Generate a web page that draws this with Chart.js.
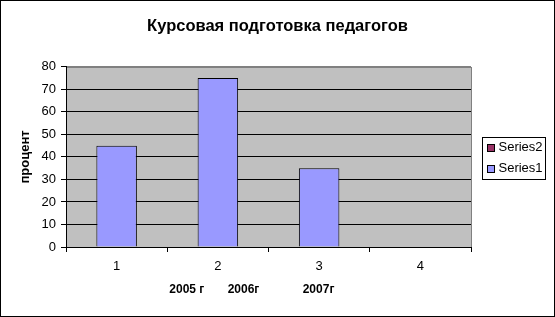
<!DOCTYPE html>
<html>
<head>
<meta charset="utf-8">
<script src="https://cdn.jsdelivr.net/npm/chart.js@4/dist/chart.umd.min.js"></script>
<style>
  html, body { margin: 0; padding: 0; background: #fff; }
  #wrap { width: 555px; height: 317px; position: relative; }
</style>
</head>
<body>
<div id="wrap"><canvas id="c" width="555" height="317"></canvas></div>
<script>
const titleText = 'Курсовая подготовка педагогов';
const yAxisTitle = 'процент';
const xAxisTitle = '2005 г       2006г             2007г          ';
const categories = ['1', '2', '3', '4'];
const series1 = [45, 75, 35, null];
const series2 = [null, null, null, null];
const yTicks = [0, 10, 20, 30, 40, 50, 60, 70, 80];

const FONT = '"Liberation Sans", Arial, sans-serif';

const bgPlugin = {
  id: 'plotBg',
  beforeDraw(chart) {
    const { ctx, chartArea: a } = chart;
    ctx.save();
    ctx.fillStyle = '#ffffff';
    ctx.fillRect(0, 0, chart.width, chart.height);
    ctx.fillStyle = '#C0C0C0';
    ctx.fillRect(a.left, a.top, a.right - a.left, a.bottom - a.top);
    ctx.strokeStyle = '#808080';
    ctx.lineWidth = 1;
    ctx.strokeRect(Math.round(a.left) + 0.5, Math.round(a.top) + 0.5, Math.round(a.right - a.left), Math.round(a.bottom - a.top));
    ctx.restore();
  },
  afterDraw(chart) {
    const { ctx } = chart;
    ctx.save();
    ctx.strokeStyle = '#000';
    ctx.lineWidth = 1;
    ctx.strokeRect(0.5, 0.5, chart.width - 1, chart.height - 1);
    // legend box
    const bx = 482.5, by = 137.5, bw = 63, bh = 42;
    ctx.fillStyle = '#fff';
    ctx.fillRect(bx, by, bw, bh);
    ctx.strokeRect(bx, by, bw, bh);
    const items = chart.data.datasets.slice().reverse();
    ctx.font = '13px ' + FONT;
    ctx.textBaseline = 'middle';
    items.forEach((ds, i) => {
      const cy = by + 10 + i * 21;
      ctx.fillStyle = ds.backgroundColor;
      ctx.fillRect(bx + 5, Math.round(cy - 4) + 0.5, 7, 7);
      ctx.strokeStyle = '#000';
      ctx.strokeRect(bx + 5, Math.round(cy - 4) + 0.5, 7, 7);
      ctx.fillStyle = '#000';
      ctx.fillText(ds.label, bx + 16, cy);
    });
    ctx.restore();
  }
};

new Chart(document.getElementById('c'), {
  type: 'bar',
  data: {
    labels: categories,
    datasets: [
      { label: 'Series1', data: series1, backgroundColor: '#9999FF', borderColor: '#000', borderWidth: 1 },
      { label: 'Series2', data: series2, backgroundColor: '#993366', borderColor: '#000', borderWidth: 1 }
    ]
  },
  options: {
    responsive: false,
    animation: false,
    devicePixelRatio: 1,
    layout: { padding: { left: 0, right: 0, top: 0, bottom: 20 } },
    datasets: { bar: { grouped: false, barPercentage: 1, categoryPercentage: 0.4 } },
    plugins: {
      legend: { display: false },
      tooltip: { enabled: false },
      title: {
        display: true,
        text: titleText,
        color: '#000',
        font: { family: FONT, size: 16.5, weight: 'bold' },
        padding: { top: 17, bottom: 30 }
      }
    },
    scales: {
      x: {
        grid: { offset: true, drawOnChartArea: false, color: '#000', tickLength: 5 },
        border: { display: true, color: '#000' },
        ticks: { color: '#000', font: { family: FONT, size: 13 }, padding: 7 },
        title: { display: true, text: xAxisTitle, color: '#000', font: { family: FONT, size: 12, weight: 'bold' }, padding: 0 },
        afterFit(s) { s.height = 50; }
      },
      y: {
        min: 0, max: 80,
        afterBuildTicks(s) { s.ticks = yTicks.map(v => ({ value: v })); },
        grid: { color: (c) => c.tick && c.tick.value === 80 ? '#808080' : '#000', tickColor: '#000', tickLength: 5 },
        border: { display: true, color: '#000' },
        ticks: { color: '#000', font: { family: FONT, size: 13 }, padding: 5 },
        title: { display: true, text: yAxisTitle, color: '#000', font: { family: FONT, size: 13, weight: 'bold' }, padding: { top: 18, bottom: 0 } },
        afterFit(s) { s.width = 66; }
      },
      legendSpace: {
        position: 'right',
        display: true,
        grid: { display: false, drawTicks: false },
        border: { display: false },
        ticks: { display: false },
        afterFit(s) { s.width = 84; }
      }
    }
  },
  plugins: [bgPlugin]
});
</script>
</body>
</html>
